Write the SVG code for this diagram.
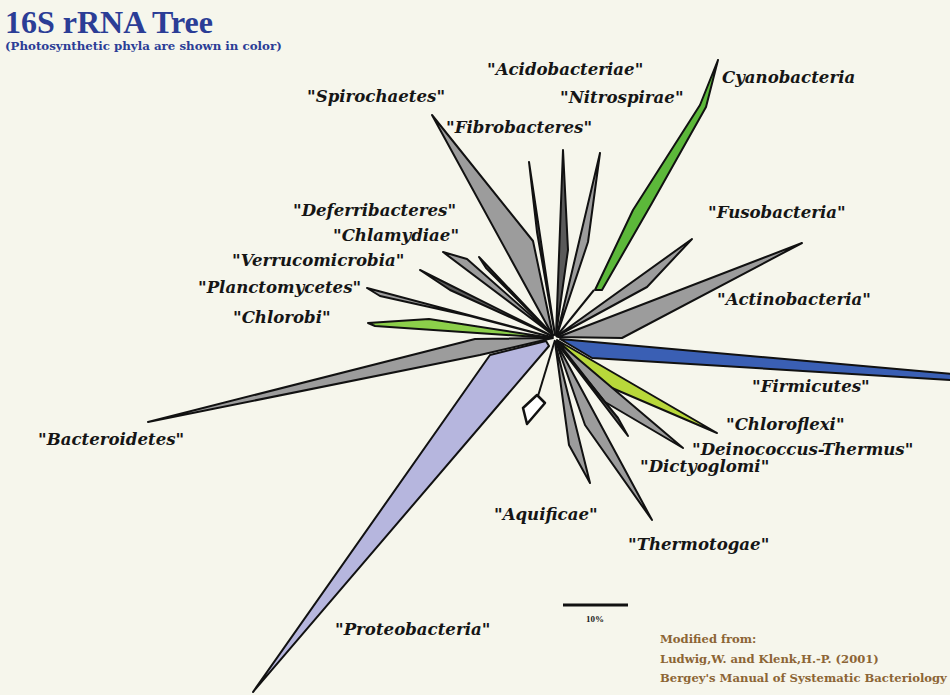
<svg xmlns="http://www.w3.org/2000/svg" width="950" height="695" viewBox="0 0 950 695">
  <style>
    .br { stroke: #111; stroke-width: 2; stroke-linejoin: round; }
    .gray { fill: #9c9c9c; }
    .thin { fill: #5a5a5a; }
    .lbl { font-family: "DejaVu Serif", "Liberation Serif", serif; font-weight: bold; font-style: italic; font-size: 16.6px; fill: #151515; }
    .cite { font-family: "DejaVu Serif", "Liberation Serif", serif; font-weight: bold; font-size: 11.6px; fill: #8c6535; }
  </style>
  <rect width="950" height="695" fill="#f6f6ec"/>

  <!-- heading -->
  <g id="title">
    <text x="5" y="33" font-family="Liberation Serif, serif" font-weight="bold" font-size="32" fill="#2b3d96">16S rRNA Tree</text>
    <text x="5" y="50" font-family="DejaVu Serif, serif" font-weight="bold" font-size="11.8" fill="#2b3d96">(Photosynthetic phyla are shown in color)</text>
  </g>

  <!-- radial branches, all rooted at the centre point -->
  <g id="connectors">
    <line class="br" x1="556" y1="337" x2="594" y2="290"/>
    <line class="br" x1="555" y1="340" x2="538" y2="396"/>
  </g>

  <g id="bacteroidetes">
    <polygon class="br gray" points="553,338 475,339 148,422 480,355"/>
    <text class="lbl" x="38" y="445">"Bacteroidetes"</text>
  </g>
  <g id="proteobacteria">
    <polygon class="br" fill="#b6b6de" points="546,341 490,355 253,692 549,346"/>
    <text class="lbl" x="335" y="635">"Proteobacteria"</text>
  </g>
  <g id="chlorobi">
    <polygon class="br" fill="#8ccf4a" points="552,338 429,319 368,323 375,326"/>
    <text class="lbl" x="233" y="323">"Chlorobi"</text>
  </g>
  <g id="planctomycetes">
    <polygon class="br gray" points="551,337 367,288 380,296 470,316"/>
    <text class="lbl" x="198" y="293">"Planctomycetes"</text>
  </g>
  <g id="verrucomicrobia">
    <polygon class="br thin" points="552,336 420,270 450,290"/>
    <text class="lbl" x="232" y="266">"Verrucomicrobia"</text>
  </g>
  <g id="chlamydiae">
    <polygon class="br thin" points="553,335 479,257 486,268"/>
    <text class="lbl" x="333" y="241">"Chlamydiae"</text>
  </g>
  <g id="deferribacteres">
    <polygon class="br gray" points="553,335 467,259 443,252"/>
    <text class="lbl" x="293" y="216">"Deferribacteres"</text>
  </g>
  <g id="spirochaetes">
    <polygon class="br gray" points="553,336 533,241 432,115"/>
    <text class="lbl" x="307" y="102">"Spirochaetes"</text>
  </g>
  <g id="fibrobacteres">
    <polygon class="br thin" points="555,335 529,162 537,232"/>
    <text class="lbl" x="446" y="133">"Fibrobacteres"</text>
  </g>
  <g id="acidobacteriae">
    <polygon class="br thin" points="556,335 563,150 568,250"/>
    <text class="lbl" x="487" y="75">"Acidobacteriae"</text>
  </g>
  <g id="nitrospirae">
    <polygon class="br gray" points="557,335 600,153 588,242"/>
    <text class="lbl" x="560" y="103">"Nitrospirae"</text>
  </g>
  <g id="cyanobacteria">
    <polygon class="br" fill="#5cb83a" points="595,290 633,210 700,105 718,60 706,107 652,203 602,290"/>
    <text class="lbl" x="722" y="83">Cyanobacteria</text>
  </g>
  <g id="fusobacteria">
    <polygon class="br gray" points="557,336 692,239 647,287"/>
    <text class="lbl" x="708" y="218">"Fusobacteria"</text>
  </g>
  <g id="actinobacteria">
    <polygon class="br gray" points="558,337 802,243 622,338"/>
    <text class="lbl" x="717" y="305">"Actinobacteria"</text>
  </g>
  <g id="firmicutes">
    <polygon class="br" fill="#3a5fb4" points="560,339 952,374 952,380 592,358"/>
    <text class="lbl" x="752" y="392">"Firmicutes"</text>
  </g>
  <g id="chloroflexi">
    <polygon class="br" fill="#b8d83a" points="557,340 717,433 605,385"/>
    <text class="lbl" x="726" y="430">"Chloroflexi"</text>
  </g>
  <g id="deinococcus-thermus">
    <polygon class="br gray" points="557,341 683,448 605,402"/>
    <text class="lbl" x="692" y="455">"Deinococcus-Thermus"</text>
  </g>
  <g id="dictyoglomi">
    <polygon class="br thin" points="556,342 628,436 618,418"/>
    <text class="lbl" x="640" y="472">"Dictyoglomi"</text>
  </g>
  <g id="thermotogae">
    <polygon class="br gray" points="556,342 585,425 652,520"/>
    <text class="lbl" x="628" y="550">"Thermotogae"</text>
  </g>
  <g id="aquificae">
    <polygon class="br gray" points="555,342 569,445 590,483"/>
    <text class="lbl" x="494" y="520">"Aquificae"</text>
  </g>

  <!-- root arrow -->
  <g id="root">
    <polygon points="537,395 545,403 527,424 523,408" fill="#ffffff" stroke="#111" stroke-width="2.5" stroke-linejoin="round"/>
  </g>

  <!-- scale bar -->
  <g id="scale">
    <line x1="563" y1="605" x2="628" y2="605" stroke="#111" stroke-width="3"/>
    <text x="595" y="622" text-anchor="middle" font-family="Liberation Serif, serif" font-weight="bold" font-size="9" fill="#222">10%</text>
  </g>

  <g id="citation">
    <text class="cite" x="660" y="643">Modified from:</text>
    <text class="cite" x="660" y="663">Ludwig,W. and Klenk,H.-P. (2001)</text>
    <text class="cite" x="660" y="682">Bergey's Manual of Systematic Bacteriology</text>
  </g>
</svg>
